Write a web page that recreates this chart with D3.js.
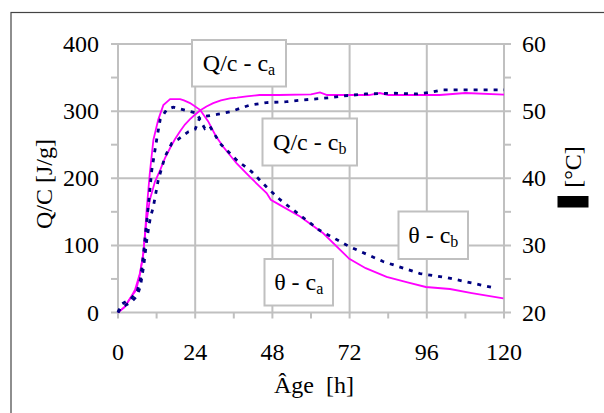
<!DOCTYPE html>
<html><head><meta charset="utf-8">
<script src="https://cdn.jsdelivr.net/npm/d3@7"></script>
<style>svg text, svg tspan { font-family: "Liberation Serif", "Times New Roman", serif !important; }</style>
</head><body style="margin:0">
<script>
// Data (t in hours)
const qcA = [[0,0],[2,8],[3.7,21],[5.6,33],[6.8,56],[7.8,86],[8.7,130],[9.9,168],[11.5,195],[13.1,212],[14.6,230],[16.2,245],[17.7,258],[19.3,270],[20.8,280],[22.4,288],[24,295],[25.5,301],[27.5,307],[29.6,312],[32,316],[34.8,319],[37,320],[40,322],[44,324],[50,324],[60,325],[62.8,328],[65,324],[78,324],[81.4,327],[84,324],[100,324],[108,327],[120,324.5]];
const qcB = [[0,0],[1,8],[2,10],[4,15],[6,25],[7,40],[8,70],[9,110],[10,140],[11,158],[12.5,197],[14.6,232],[16.7,252],[18.7,258],[21.8,269],[24,273],[25.5,291],[30.7,295],[34.8,299],[41,309],[46.2,312.7],[52.4,314],[57.6,316.7],[61,318],[66,320],[70,322.6],[77,325.6],[86,326.6],[93,325.6],[97,327.8],[101,331.6],[120,331.6]];
const thA = [[0,20],[2,20.8],[3.7,22],[5.3,23.4],[6.8,25.8],[7.9,28.8],[8.4,31.8],[8.9,35.3],[9.9,40.8],[11,45.7],[12.5,48.7],[14.1,50.9],[16.2,51.8],[19.3,51.8],[20.5,51.6],[22.4,51.2],[25.5,50.2],[28,48.5],[30.4,46.3],[32.7,44.7],[36.9,42.2],[41,40.2],[44,38.8],[46.2,37.8],[47.5,36.8],[50.4,36.0],[56.6,34.3],[63.8,31.8],[71.9,28.0],[77,26.6],[83.5,25.3],[90,24.5],[95.7,23.8],[103.2,23.5],[110,22.9],[119.8,22.1]];
const thB = [[0,20],[1,21.2],[2,21.5],[4,22],[6,23.2],[7,25],[8,29],[8.8,33],[9.4,35.8],[10.5,41.2],[12,45.7],[13.1,48.7],[15.1,50.2],[17.2,50.6],[21.3,50.1],[24.5,49.7],[25.5,48.7],[27,47.4],[28.5,47.8],[31.7,45.2],[36.9,42.7],[41.5,41],[46.2,38.7],[50.4,36.8],[56.6,34.5],[62.8,32.2],[69,30.6],[72,29.8],[82.4,27.6],[93.9,25.8],[102.2,25.2],[117.6,23.6]];
const xTicks = [0,24,48,72,96,120];
const yLTicks = [0,100,200,300,400];
const yRTicks = [20,30,40,50,60];
const boxLabels = ["Q/c - c|a","Q/c - c|b","θ - c|b","θ - c|a"];

const W=604,H=413;
const SERIF='"Liberation Serif", "Times New Roman", serif';
const svg=d3.select("body").append("svg").attr("width",W).attr("height",H);
const L=118,R=504,T=44,B=312.5;
const x=d3.scaleLinear().domain([0,120]).range([L,R]);
const yL=d3.scaleLinear().domain([0,400]).range([B,T]);
const yR=d3.scaleLinear().domain([20,60]).range([B,T]);

svg.append("rect").attr("x",11).attr("y",12.5).attr("width",620).attr("height",420).attr("fill","none").attr("stroke","#444").attr("stroke-width",1.2);

const grid="#c0c0c0";
const g=svg.append("g");
yLTicks.forEach(v=>{
  g.append("line").attr("x1",L-7).attr("x2",R+7).attr("y1",yL(v)).attr("y2",yL(v)).attr("stroke",grid).attr("stroke-width",2);
});
[50,150,250,350].forEach(v=>{
  g.append("line").attr("x1",L-7).attr("x2",L).attr("y1",yL(v)).attr("y2",yL(v)).attr("stroke",grid).attr("stroke-width",2);
  g.append("line").attr("x1",R).attr("x2",R+7).attr("y1",yL(v)).attr("y2",yL(v)).attr("stroke",grid).attr("stroke-width",2);
});
xTicks.forEach(v=>{
  g.append("line").attr("x1",x(v)).attr("x2",x(v)).attr("y1",T).attr("y2",B+6).attr("stroke",grid).attr("stroke-width",2);
});
[12,36,60,84,108].forEach(v=>{
  g.append("line").attr("x1",x(v)).attr("x2",x(v)).attr("y1",B).attr("y2",B+6).attr("stroke",grid).attr("stroke-width",2);
});

function txt(){ return svg.append("text").attr("font-family","Liberation Serif").style("font-family",SERIF,"important").attr("fill","#000"); }
const fs=24;
yLTicks.forEach(v=>txt().attr("x",99).attr("y",yL(v)+8).attr("text-anchor","end").attr("font-size",fs).text(String(v)));
yRTicks.forEach(v=>txt().attr("x",522).attr("y",yR(v)+8).attr("text-anchor","start").attr("font-size",fs).text(String(v)));
xTicks.forEach(v=>txt().attr("x",x(v)).attr("y",360).attr("text-anchor","middle").attr("font-size",fs).text(String(v)));

txt().attr("x",314).attr("y",393).attr("text-anchor","middle").attr("font-size",fs).text("Âge\u00a0\u00a0[h]");
txt().attr("transform","translate(52,184) rotate(-90)").attr("text-anchor","middle").attr("font-size",fs).text("Q/C [J/g]");
txt().attr("transform","translate(581,167) rotate(-90)").attr("text-anchor","middle").attr("font-size",fs).text("[°C]");
svg.append("rect").attr("x",557.5).attr("y",196).attr("width",31).attr("height",11.5).attr("fill","#000");

const lineL=d3.line().x(d=>x(d[0])).y(d=>yL(d[1]));
const lineR=d3.line().x(d=>x(d[0])).y(d=>yR(d[1]));
const magenta="#ff00ff", navy="#000080";
svg.append("path").attr("d",lineL(qcA)).attr("fill","none").attr("stroke",magenta).attr("stroke-width",1.8);
svg.append("path").attr("d",lineR(thA)).attr("fill","none").attr("stroke",magenta).attr("stroke-width",1.8);
svg.append("path").attr("d",lineL(qcB)).attr("fill","none").attr("stroke",navy).attr("stroke-width",2.8).attr("stroke-dasharray","4,6");
svg.append("path").attr("d",lineR(thB)).attr("fill","none").attr("stroke",navy).attr("stroke-width",2.8).attr("stroke-dasharray","4,6");

const boxPos=[[192,40,286,86.5],[262.5,118.5,357,165.5],[398.5,211.5,468,259],[264.5,259,333,305.5]];
boxLabels.forEach((lab,i)=>{
  const [x0,y0,x1,y1]=boxPos[i];
  const [main,sub]=lab.split("|");
  svg.append("rect").attr("x",x0).attr("y",y0).attr("width",x1-x0).attr("height",y1-y0).attr("fill","#fff").attr("stroke",grid).attr("stroke-width",2);
  const t=txt().attr("x",(x0+x1)/2).attr("y",(y0+y1)/2+8).attr("text-anchor","middle").attr("font-size",24);
  t.append("tspan").text(main.replace(/ /g,"\u00a0"));
  t.append("tspan").attr("font-size",16).attr("dy",4).text(sub);
});
</script>
</body></html>
